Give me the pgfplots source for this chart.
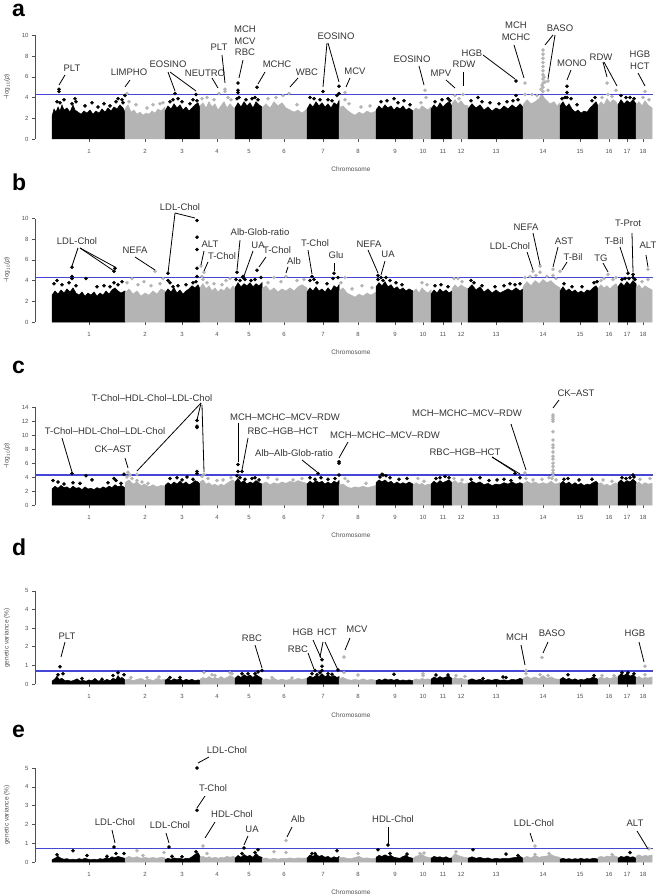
\documentclass[border=0pt]{standalone}
\usepackage{fontspec}
\setmainfont{Liberation Sans}
\usepackage{pgfplots}
\pgfplotsset{compat=1.18}
\definecolor{mgray}{HTML}{B4B4B4}
\definecolor{thrc}{HTML}{4646D6}
\definecolor{txt}{HTML}{333333}
\definecolor{tickc}{HTML}{505050}

\pgfplotsset{
  manh/.style={
    scale only axis, width=621pt, xmin=-17, xmax=604, anchor=south west,
    axis lines*=left, axis line style={draw=none},
    tick align=outside, major tick length=3pt,
    tick style={draw=tickc, line width=0.4pt},
    xtick={37,93,130,165,197,232,271,306,343,371,391,409,444,491,528,557,575,591},
    xticklabels={1,2,3,4,5,6,7,8,9,10,11,12,13,14,15,16,17,18},
    ticklabel style={font=\fontsize{6}{7}\selectfont, text=tickc},
    xticklabel style={yshift=-4pt},
    /pgf/number format/assume math mode=true,
    clip=false,
  },
  blk/.style={fill=black, draw=black, line width=0.5pt},
  gry/.style={fill=mgray, draw=mgray, line width=0.5pt},
  pb/.style={only marks, mark=*, mark size=1.6pt, color=black},
  pg/.style={only marks, mark=*, mark size=1.6pt, color=mgray},
  thr/.style={draw=thrc, line width=1.2pt, no markers},
}
\tikzset{
  lab/.style={font=\fontsize{9.5}{11.5}\selectfont, text=txt, align=center, inner sep=0pt},
  ldr/.style={draw=black, line width=0.8pt},
  axl/.style={font=\fontsize{6.5}{7}\selectfont, text=tickc, inner sep=0pt},
  let/.style={anchor=base west, font=\bfseries\fontsize{23}{23}\selectfont, inner sep=0pt},
}

\begin{document}
\begin{tikzpicture}
\useasboundingbox (0pt,0pt) rectangle (658pt,-896pt);

% ---------------- a ----------------
\begin{axis}[manh, at={(35pt,-139pt)}, height=103.5pt, ymin=0, ymax=10, ytick={0,2,...,10}]
\addplot[blk] coordinates {(0,2.2)(2,2.9)(4,2.6)(6,3.1)(8,2.7)(10,3.3)(12,2.8)(15,3.0)(18,2.6)(21,3.3)(23,2.8)(26,2.6)(29,2.4)(32,2.7)(35,2.5)(38,2.8)(41,2.4)(44,2.7)(47,2.5)(50,2.9)(53,2.6)(56,3.0)(59,2.7)(62,3.1)(65,2.9)(68,3.3)(71,3.0)(73,2.6)} \closedcycle;
\addplot[gry] coordinates {(73,2.9)(76,3.3)(79,2.6)(82,2.8)(85,2.4)(88,2.6)(91,2.3)(94,2.5)(97,2.4)(100,2.7)(103,2.5)(106,2.9)(109,2.7)(113,3.1)} \closedcycle;
\addplot[blk] coordinates {(113,2.7)(116,3.2)(119,2.9)(122,3.4)(125,3.0)(128,3.3)(131,2.8)(134,3.1)(137,2.7)(140,3.0)(143,3.3)(146,3.5)(148,3.0)} \closedcycle;
\addplot[gry] coordinates {(148,3.2)(151,3.5)(154,3.0)(157,3.6)(160,3.1)(163,3.4)(166,2.8)(169,3.2)(172,3.6)(175,3.0)(178,3.4)(181,3.1)(183,2.9)} \closedcycle;
\addplot[blk] coordinates {(183,3.0)(186,3.5)(189,3.1)(192,3.6)(195,3.2)(198,3.5)(201,3.0)(204,3.6)(207,3.3)(210,3.1)} \closedcycle;
\addplot[gry] coordinates {(210,3.0)(214,3.4)(218,3.0)(222,3.6)(226,3.2)(230,3.5)(234,3.0)(238,2.8)(242,2.6)(246,2.8)(250,2.5)(255,2.9)} \closedcycle;
\addplot[blk] coordinates {(255,2.9)(258,3.4)(261,3.1)(264,3.6)(267,3.2)(270,3.5)(273,3.1)(276,3.4)(279,3.0)(282,3.5)(285,3.3)(287,3.7)} \closedcycle;
\addplot[gry] coordinates {(287,3.0)(291,3.2)(295,2.8)(299,2.5)(303,2.3)(307,2.6)(311,2.4)(315,2.7)(319,2.5)(324,2.7)} \closedcycle;
\addplot[blk] coordinates {(324,2.8)(327,3.2)(330,2.9)(333,3.3)(336,3.0)(339,3.2)(342,2.8)(345,3.1)(348,2.9)(351,3.2)(354,2.8)(357,3.0)(361,2.7)} \closedcycle;
\addplot[gry] coordinates {(361,2.7)(364,3.0)(367,2.8)(370,3.2)(373,3.0)(376,2.8)(379,3.1)} \closedcycle;
\addplot[blk] coordinates {(379,2.9)(382,3.3)(385,3.0)(388,3.5)(391,3.1)(394,3.4)(397,3.6)(400,3.2)} \closedcycle;
\addplot[gry] coordinates {(400,3.4)(403,3.8)(406,3.4)(409,3.7)(412,3.3)(416,3.2)} \closedcycle;
\addplot[blk] coordinates {(416,2.9)(420,3.4)(424,3.0)(428,3.3)(432,2.8)(436,3.1)(440,2.7)(444,3.0)(448,2.8)(452,3.2)(456,2.9)(460,3.3)(464,3.0)(468,3.4)(471,3.1)} \closedcycle;
\addplot[gry] coordinates {(471,3.3)(475,3.8)(479,3.4)(483,3.6)(487,3.9)(490,4.4)(492,4.0)(495,3.7)(498,3.4)(502,3.6)(505,3.2)(508,3.5)} \closedcycle;
\addplot[blk] coordinates {(508,3.2)(511,3.6)(514,3.1)(517,3.4)(520,2.9)(523,2.6)(526,2.8)(529,2.5)(532,2.7)(535,2.6)(538,3.0)(541,3.3)(544,3.6)(546,3.2)} \closedcycle;
\addplot[gry] coordinates {(546,3.2)(549,3.6)(552,3.3)(555,3.9)(558,3.5)(561,3.8)(564,3.6)(566,3.2)} \closedcycle;
\addplot[blk] coordinates {(566,3.3)(569,3.8)(572,3.4)(575,3.7)(578,3.5)(581,3.8)(584,3.4)} \closedcycle;
\addplot[gry] coordinates {(584,3.3)(587,3.6)(590,3.2)(593,3.7)(596,3.3)(600,3.0)} \closedcycle;
\addplot[pb] coordinates {(5,3.6)(8,3.5)(12,3.8)(20,3.4)(23,3.9)(24,3.6)(33,3.2)(40,3.5)(46,3.1)(52,3.4)(58,3.2)(64,3.6)(66,3.9)(70,3.8)(71,3.5)(7,4.6)(7,4.8)(73,4.2)
 (118,3.6)(121,3.8)(126,3.9)(130,3.6)(138,3.4)(141,3.8)(145,3.7)(123,4.4)(144,4.3)
 (185,3.9)(187,4.0)(194,3.8)(200,3.9)(203,4.0)(206,3.8)(186,5.4)(186,4.7)(186,4.5)(205,5.0)
 (258,4.0)(262,3.9)(268,3.8)(276,3.8)(280,3.7)(285,4.2)(271,4.6)(287,5.1)(287,4.4)
 (329,3.6)(335,3.7)(342,3.9)(346,3.5)(352,3.7)(358,3.3)
 (383,3.6)(390,3.8)(396,3.9)(398,3.7)
 (419,3.7)(426,4.0)(430,3.6)(438,3.5)(447,3.4)(455,3.6)(461,3.7)(466,3.8)(464,5.6)(464,4.2)
 (510,3.9)(513,4.0)(519,3.9)(525,3.3)(540,3.7)(543,4.0)(515,5.1)(515,4.5)(515,4.0)
 (569,4.2)(574,4.0)(578,4.0)(582,3.9)};
\addplot[pg] coordinates {(75,4.4)(77,3.6)(84,3.3)(95,3.0)(101,3.3)(108,3.4)(111,3.5)
 (150,3.9)(155,4.0)(162,3.8)(167,4.4)(173,4.8)(173,4.6)(176,4.0)(179,3.8)
 (216,3.9)(224,4.0)(231,4.2)(237,4.4)(245,3.3)
 (293,4.5)(293,3.8)(297,3.4)(309,3.1)(318,3.2)
 (373,4.7)(374,4.0)(369,3.5)
 (403,4.2)(411,4.3)(407,3.9)
 (491,4.6)(491,5.0)(491,5.4)(491,5.8)(491,6.2)(491,6.6)(491,7.0)(491,7.4)(491,7.8)(491,8.2)(491,8.6)(490,5.2)(492,6.0)(489,4.8)(493,5.5)(496,5.6)(496,4.7)(473,5.4)(473,4.3)(480,4.3)(485,4.2)
 (550,4.0)(555,5.4)(556,4.3)(564,4.7)(560,4.1)
 (593,4.6)(591,4.0)(597,3.8)};
\addplot[thr] coordinates {(-17,4.3)(601,4.3)};
\draw[tickc, line width=0.4pt] (axis cs:-17,0) -- (axis cs:-17,10);
\end{axis}

% ---------------- b ----------------
\begin{axis}[manh, at={(35pt,-322pt)}, height=103.5pt, ymin=0, ymax=10, ytick={0,2,...,10}]
\addplot[blk] coordinates {(0,2.6)(3,3.0)(6,2.7)(9,3.1)(12,2.8)(15,3.2)(18,2.9)(21,3.3)(24,2.8)(27,2.6)(30,2.9)(33,2.5)(36,2.8)(39,2.6)(42,2.9)(45,2.5)(48,2.8)(51,2.6)(54,3.0)(57,2.7)(60,3.1)(63,3.3)(66,3.0)(69,2.8)(73,3.0)} \closedcycle;
\addplot[gry] coordinates {(73,2.8)(77,3.2)(81,2.7)(85,3.0)(89,2.5)(93,2.8)(97,2.6)(101,3.0)(105,2.7)(109,3.2)(113,3.0)} \closedcycle;
\addplot[blk] coordinates {(113,2.8)(116,3.2)(119,2.9)(122,3.3)(125,2.8)(128,3.1)(131,2.7)(134,3.0)(137,3.2)(140,3.5)(143,3.3)(146,3.6)(148,3.2)} \closedcycle;
\addplot[gry] coordinates {(148,3.3)(151,3.7)(154,3.2)(157,3.5)(160,3.0)(163,3.3)(166,2.9)(169,3.2)(172,3.0)(175,3.4)(178,3.1)(181,3.5)(183,3.2)} \closedcycle;
\addplot[blk] coordinates {(183,3.3)(186,3.8)(189,3.4)(192,3.7)(195,3.5)(198,3.8)(201,3.4)(204,3.7)(207,3.5)(210,3.8)} \closedcycle;
\addplot[gry] coordinates {(210,3.2)(214,3.5)(218,3.0)(222,3.3)(226,2.9)(230,3.2)(234,3.0)(238,3.3)(242,3.0)(246,3.4)(250,3.6)(255,3.3)} \closedcycle;
\addplot[blk] coordinates {(255,2.9)(258,3.3)(261,3.0)(264,3.4)(267,3.0)(270,3.2)(273,2.9)(276,3.3)(279,3.0)(282,3.5)(285,3.3)(287,3.6)} \closedcycle;
\addplot[gry] coordinates {(287,3.0)(291,3.3)(295,2.8)(299,2.6)(303,2.4)(307,2.7)(311,2.5)(315,2.8)(319,2.6)(324,2.9)} \closedcycle;
\addplot[blk] coordinates {(324,3.4)(327,3.8)(330,3.5)(333,3.9)(336,3.4)(339,3.6)(342,3.2)(345,3.4)(348,3.1)(351,3.3)(354,3.0)(357,3.2)(361,3.0)} \closedcycle;
\addplot[gry] coordinates {(361,2.9)(364,3.2)(367,2.8)(370,3.3)(373,3.0)(376,2.8)(379,3.1)} \closedcycle;
\addplot[blk] coordinates {(379,2.7)(382,3.1)(385,2.8)(388,3.2)(391,2.9)(394,3.1)(397,2.8)(400,3.0)} \closedcycle;
\addplot[gry] coordinates {(400,3.2)(403,3.6)(406,3.3)(409,3.6)(412,3.4)(416,3.2)} \closedcycle;
\addplot[blk] coordinates {(416,3.2)(420,3.6)(424,3.1)(428,3.4)(432,2.9)(436,3.2)(440,2.8)(444,3.1)(448,2.8)(452,3.0)(456,3.2)(460,3.0)(464,3.3)(468,3.0)(471,3.2)} \closedcycle;
\addplot[gry] coordinates {(471,3.4)(475,3.9)(479,3.5)(483,4.0)(487,3.7)(491,4.1)(495,3.8)(499,4.0)(503,3.6)(508,3.3)} \closedcycle;
\addplot[blk] coordinates {(508,3.0)(511,3.4)(514,3.0)(517,3.2)(520,2.9)(523,3.1)(526,2.8)(529,3.0)(532,2.8)(535,3.1)(538,3.0)(541,3.3)(544,3.5)(546,3.2)} \closedcycle;
\addplot[gry] coordinates {(546,3.2)(549,3.6)(552,3.3)(555,3.5)(558,3.2)(561,3.5)(564,3.7)(566,3.3)} \closedcycle;
\addplot[blk] coordinates {(566,3.4)(569,3.8)(572,3.5)(575,3.9)(578,3.6)(581,4.0)(584,3.7)} \closedcycle;
\addplot[gry] coordinates {(584,3.3)(587,3.6)(590,3.2)(593,3.5)(596,3.3)(600,3.1)} \closedcycle;
\addplot[pb] coordinates {(2,3.7)(5,4.0)(10,3.6)(17,3.8)(20,4.4)(20,4.2)(24,3.5)(34,4.2)(45,3.4)(52,3.5)(58,3.4)(62,3.8)(66,3.6)(70,3.9)(20,5.3)(63,5.2)(62,4.9)
 (116,4.0)(118,3.8)(121,3.4)(126,3.5)(134,3.6)(141,3.8)(144,3.9)(116,4.7)(145,9.8)(145,8.2)(145,7.0)(145,5.2)(145,4.4)
 (184,4.1)(188,4.0)(193,4.1)(199,4.0)(203,4.1)(209,4.3)(185,4.8)(191,4.4)(191,4.3)(205,5.0)
 (258,4.0)(262,4.1)(265,3.8)(275,3.7)(281,4.2)(286,4.3)(260,4.4)(282,4.7)
 (326,4.1)(331,4.0)(334,4.3)(338,4.0)(344,3.8)(350,3.6)(326,4.5)(329,4.3)
 (383,3.5)(389,3.6)(396,3.4)
 (419,4.0)(422,3.8)(430,3.5)(443,3.4)(452,3.5)(458,3.7)(463,3.6)(468,3.7)
 (512,3.7)(520,3.4)(530,3.4)(542,3.8)(545,3.9)
 (570,4.1)(573,4.2)(577,4.2)(581,4.3)(583,4.1)(576,4.7)(581,4.6)};
\addplot[pg] coordinates {(75,3.8)(80,4.2)(86,3.6)(92,3.9)(99,3.5)(103,4.9)(108,3.7)(111,4.2)
 (150,4.4)(151,4.1)(155,3.8)(162,3.7)(170,3.6)(174,4.0)(178,4.2)(149,5.4)(152,4.8)
 (216,3.8)(222,4.3)(229,3.9)(234,4.4)(245,4.0)(252,4.1)
 (289,3.8)(293,4.3)(300,3.2)(310,3.5)(320,3.3)
 (370,3.8)(375,3.6)
 (402,4.2)(406,4.2)(410,3.9)
 (473,4.3)(478,4.4)(484,4.5)(488,4.8)(495,4.4)(501,4.5)(504,4.2)(481,4.9)(488,5.4)(501,5.1)(508,4.9)
 (549,4.0)(552,4.2)(556,4.6)(561,4.1)(564,4.3)
 (596,5.1)(596,4.1)(590,3.9)};
\addplot[thr] coordinates {(-17,4.3)(601,4.3)};
\draw[tickc, line width=0.4pt] (axis cs:-17,0) -- (axis cs:-17,10);
\end{axis}

% ---------------- c ----------------
\begin{axis}[manh, at={(35pt,-505pt)}, height=97.7pt, ymin=0, ymax=14, ytick={0,2,...,14}]
\addplot[blk] coordinates {(0,2.3)(3,2.7)(6,2.4)(9,2.8)(12,2.5)(15,2.6)(18,2.3)(21,2.7)(24,2.4)(27,2.5)(30,2.2)(33,2.6)(36,2.3)(39,2.4)(42,2.2)(45,2.5)(48,2.3)(51,2.6)(54,2.4)(57,2.7)(60,2.5)(63,2.9)(66,2.6)(69,2.8)(73,2.5)} \closedcycle;
\addplot[gry] coordinates {(73,3.2)(77,3.6)(81,3.0)(85,3.3)(89,2.8)(93,3.0)(97,2.6)(101,2.9)(105,2.6)(109,2.8)(113,2.7)} \closedcycle;
\addplot[blk] coordinates {(113,2.8)(116,3.2)(119,2.9)(122,3.3)(125,3.0)(128,3.4)(131,3.0)(134,3.3)(137,2.9)(140,3.1)(143,3.5)(146,3.3)(148,3.0)} \closedcycle;
\addplot[gry] coordinates {(148,3.3)(151,3.6)(154,3.0)(157,3.2)(160,2.8)(163,3.0)(166,2.7)(169,3.0)(172,2.8)(175,3.1)(178,3.4)(181,3.6)(183,3.2)} \closedcycle;
\addplot[blk] coordinates {(183,3.3)(186,3.8)(189,3.2)(192,3.5)(195,3.0)(198,3.3)(201,3.1)(204,3.5)(207,3.2)(210,3.0)} \closedcycle;
\addplot[gry] coordinates {(210,3.0)(214,3.3)(218,2.9)(222,3.2)(226,3.0)(230,3.3)(234,3.1)(238,3.4)(242,3.2)(246,3.5)(250,3.3)(255,3.1)} \closedcycle;
\addplot[blk] coordinates {(255,3.0)(258,3.4)(261,3.1)(264,3.5)(267,3.2)(270,3.4)(273,3.0)(276,3.3)(279,3.0)(282,3.4)(285,3.2)(287,3.5)} \closedcycle;
\addplot[gry] coordinates {(287,2.9)(291,3.0)(295,2.6)(299,2.4)(303,2.6)(307,2.5)(311,2.7)(315,2.5)(319,2.6)(324,2.8)} \closedcycle;
\addplot[blk] coordinates {(324,3.2)(327,3.6)(330,3.3)(333,3.6)(336,3.2)(339,3.4)(342,3.0)(345,3.3)(348,3.0)(351,3.2)(354,3.0)(357,3.3)(361,3.0)} \closedcycle;
\addplot[gry] coordinates {(361,2.8)(364,3.2)(367,2.9)(370,3.1)(373,2.8)(376,3.0)(379,2.9)} \closedcycle;
\addplot[blk] coordinates {(379,3.0)(382,3.4)(385,3.1)(388,3.5)(391,3.2)(394,3.4)(397,3.6)(400,3.2)} \closedcycle;
\addplot[gry] coordinates {(400,3.2)(403,3.5)(406,3.1)(409,3.3)(412,3.0)(416,3.2)} \closedcycle;
\addplot[blk] coordinates {(416,3.0)(420,3.4)(424,3.1)(428,3.3)(432,2.9)(436,3.1)(440,2.8)(444,3.0)(448,2.9)(452,3.2)(456,3.0)(460,3.3)(464,3.0)(468,3.2)(471,3.0)} \closedcycle;
\addplot[gry] coordinates {(471,3.0)(475,3.4)(479,3.1)(483,3.3)(487,3.0)(491,3.2)(495,3.0)(499,3.4)(503,3.0)(508,3.2)} \closedcycle;
\addplot[blk] coordinates {(508,3.0)(511,3.4)(514,3.0)(517,3.3)(520,2.9)(523,3.2)(526,2.9)(529,3.1)(532,2.8)(535,3.0)(538,2.9)(541,3.2)(544,3.4)(546,3.1)} \closedcycle;
\addplot[gry] coordinates {(546,2.9)(549,3.2)(552,2.8)(555,3.0)(558,2.7)(561,3.0)(564,3.2)(566,2.9)} \closedcycle;
\addplot[blk] coordinates {(566,3.2)(569,3.6)(572,3.2)(575,3.5)(578,3.3)(581,3.7)(584,3.3)} \closedcycle;
\addplot[gry] coordinates {(584,3.0)(587,3.3)(590,2.9)(593,3.2)(596,3.0)(600,3.1)} \closedcycle;
\addplot[pb] coordinates {(1,3.5)(6,3.3)(12,3.0)(21,3.2)(28,3.1)(34,4.2)(40,3.6)(56,3.2)(62,3.8)(64,3.5)(69,3.1)(20,4.5)(72,4.4)
 (118,3.8)(125,3.9)(130,3.6)(135,4.0)(141,3.7)(145,12.1)(145,11.3)(145,11.1)(145,4.8)(145,4.5)
 (185,4.2)(188,3.9)(193,3.7)(200,3.8)(203,3.9)(207,3.6)(186,5.8)(186,4.8)(190,4.8)
 (258,3.9)(263,3.7)(269,3.9)(276,3.7)(283,3.8)(266,4.5)(287,6.2)(287,6.0)(287,4.3)
 (328,4.0)(331,4.3)(334,4.2)(338,3.9)(347,3.7)(355,3.8)(330,4.4)
 (384,3.8)(388,3.9)(393,4.1)(397,3.9)
 (419,3.7)(428,3.9)(437,3.5)(445,3.6)(452,3.7)(459,3.5)(468,3.9)(463,4.5)
 (512,3.7)(516,3.8)(527,3.6)(540,3.7)
 (570,3.9)(574,3.8)(578,3.9)(581,4.3)(582,4.0)};
\addplot[pg] coordinates {(75,4.0)(78,4.3)(80,3.8)(85,3.5)(90,3.3)(96,3.1)(76,4.7)(85,4.4)
 (150,4.1)(156,3.8)(165,3.5)(171,3.6)(179,3.9)(152,4.4)
 (216,3.9)(225,3.7)(241,3.6)(250,3.8)
 (293,3.8)(296,3.4)(314,3.1)
 (366,3.8)(372,3.4)
 (402,3.8)(410,3.6)
 (474,3.8)(481,3.6)(490,3.7)(497,3.9)(504,3.6)(501,12.9)(501,12.6)(501,12.3)(501,12.0)(501,10.5)(501,9.3)(501,8.6)(501,8.2)(501,7.6)(501,7.0)(501,6.6)(501,6.0)(501,5.5)(501,5.0)(501,4.6)(501,4.2)(500,3.8)(473,4.6)
 (551,3.6)(560,3.4)
 (588,3.7)(598,3.8)};
\addplot[thr] coordinates {(-17,4.3)(601,4.3)};
\draw[tickc, line width=0.4pt] (axis cs:-17,0) -- (axis cs:-17,14);
\end{axis}

% ---------------- d ----------------
\begin{axis}[manh, at={(35pt,-684pt)}, height=93.3pt, ymin=0, ymax=5, ytick={0,1,...,5}]
\addplot[blk] coordinates {(0,0.15)(3,0.28)(5,0.42)(7,0.25)(10,0.3)(13,0.18)(16,0.2)(19,0.15)(22,0.2)(25,0.28)(28,0.16)(31,0.2)(34,0.15)(37,0.22)(40,0.18)(43,0.3)(46,0.16)(49,0.2)(52,0.17)(55,0.25)(58,0.18)(61,0.3)(64,0.25)(66,0.45)(68,0.3)(70,0.35)(73,0.22)} \closedcycle;
\addplot[gry] coordinates {(73,0.2)(77,0.28)(81,0.18)(85,0.25)(89,0.3)(93,0.2)(97,0.26)(101,0.18)(105,0.3)(109,0.22)(113,0.25)} \closedcycle;
\addplot[blk] coordinates {(113,0.2)(116,0.3)(119,0.18)(122,0.28)(125,0.22)(128,0.3)(131,0.18)(134,0.25)(137,0.2)(140,0.25)(143,0.18)(146,0.22)(148,0.2)} \closedcycle;
\addplot[gry] coordinates {(148,0.25)(151,0.35)(154,0.28)(157,0.4)(160,0.3)(163,0.35)(166,0.28)(169,0.4)(172,0.3)(175,0.35)(178,0.45)(181,0.38)(183,0.3)} \closedcycle;
\addplot[blk] coordinates {(183,0.3)(186,0.45)(189,0.35)(192,0.5)(195,0.4)(198,0.48)(201,0.35)(204,0.5)(207,0.4)(210,0.3)} \closedcycle;
\addplot[gry] coordinates {(210,0.2)(214,0.28)(218,0.22)(222,0.3)(226,0.2)(230,0.26)(234,0.2)(238,0.25)(242,0.22)(246,0.3)(250,0.25)(255,0.3)} \closedcycle;
\addplot[blk] coordinates {(255,0.3)(258,0.42)(261,0.35)(264,0.45)(267,0.4)(270,0.55)(273,0.4)(276,0.48)(279,0.38)(282,0.45)(285,0.35)(287,0.4)} \closedcycle;
\addplot[gry] coordinates {(287,0.3)(291,0.35)(295,0.25)(299,0.2)(303,0.25)(307,0.2)(311,0.28)(315,0.2)(319,0.25)(324,0.2)} \closedcycle;
\addplot[blk] coordinates {(324,0.18)(327,0.25)(330,0.2)(333,0.28)(336,0.22)(339,0.25)(342,0.2)(345,0.26)(348,0.18)(351,0.22)(354,0.18)(357,0.22)(361,0.18)} \closedcycle;
\addplot[gry] coordinates {(361,0.2)(364,0.28)(367,0.22)(370,0.3)(373,0.25)(376,0.28)(379,0.22)} \closedcycle;
\addplot[blk] coordinates {(379,0.25)(382,0.38)(385,0.3)(388,0.4)(391,0.32)(394,0.38)(397,0.42)(400,0.3)} \closedcycle;
\addplot[gry] coordinates {(400,0.25)(403,0.35)(406,0.28)(409,0.32)(412,0.25)(416,0.22)} \closedcycle;
\addplot[blk] coordinates {(416,0.2)(420,0.28)(424,0.2)(428,0.25)(432,0.18)(436,0.24)(440,0.2)(444,0.26)(448,0.2)(452,0.22)(456,0.18)(460,0.25)(464,0.22)(468,0.3)(471,0.25)} \closedcycle;
\addplot[gry] coordinates {(471,0.3)(475,0.4)(479,0.3)(483,0.38)(487,0.28)(491,0.45)(495,0.3)(499,0.38)(503,0.28)(508,0.25)} \closedcycle;
\addplot[blk] coordinates {(508,0.25)(511,0.35)(514,0.25)(517,0.3)(520,0.22)(523,0.28)(526,0.2)(529,0.25)(532,0.22)(535,0.3)(538,0.28)(541,0.38)(544,0.3)(546,0.25)} \closedcycle;
\addplot[gry] coordinates {(546,0.28)(549,0.38)(552,0.3)(555,0.35)(558,0.28)(561,0.35)(564,0.4)(566,0.3)} \closedcycle;
\addplot[blk] coordinates {(566,0.4)(569,0.55)(572,0.45)(575,0.58)(578,0.42)(581,0.5)(584,0.35)} \closedcycle;
\addplot[gry] coordinates {(584,0.3)(587,0.4)(590,0.3)(593,0.35)(596,0.32)(600,0.38)} \closedcycle;
\addplot[pb] coordinates {(6,0.5)(11,0.55)(30,0.3)(50,0.25)(61,0.45)(66,0.6)(72,0.5)(8,0.92)
 (118,0.35)(128,0.35)
 (190,0.55)(196,0.55)(203,0.55)(206,0.65)(210,0.72)
 (260,0.55)(265,0.5)(268,0.6)(276,0.55)(280,0.52)(263,0.72)(270,1.3)(270,0.95)(270,0.72)(286,0.75)
 (342,0.52)
 (384,0.48)(396,0.48)
 (431,0.3)(451,0.38)(454,0.35)
 (516,0.5)(542,0.45)
 (570,0.6)(576,0.6)(582,0.55)};
\addplot[pg] coordinates {(79,0.35)(95,0.35)(107,0.38)
 (152,0.62)(160,0.5)(163,0.45)(178,0.6)(180,0.55)
 (220,0.35)(240,0.32)
 (292,0.62)(306,0.48)(292,1.45)
 (371,0.55)(371,0.45)
 (404,0.45)(413,0.4)
 (474,0.55)(488,0.5)(496,0.45)(474,0.72)(490,1.42)
 (550,0.45)(562,0.45)
 (593,0.5)(593,0.95)};
\addplot[thr] coordinates {(-17,0.7)(601,0.7)};
\draw[tickc, line width=0.4pt] (axis cs:-17,0) -- (axis cs:-17,5);
\end{axis}

% ---------------- e ----------------
\begin{axis}[manh, at={(35pt,-862pt)}, height=94pt, ymin=0, ymax=5, ytick={0,1,...,5}]
\addplot[blk] coordinates {(0,0.12)(3,0.2)(6,0.3)(9,0.2)(12,0.15)(15,0.18)(18,0.12)(21,0.15)(24,0.12)(27,0.18)(30,0.14)(33,0.2)(36,0.15)(39,0.12)(42,0.15)(45,0.12)(48,0.18)(51,0.15)(54,0.22)(57,0.18)(60,0.28)(63,0.22)(66,0.3)(69,0.25)(73,0.2)} \closedcycle;
\addplot[gry] coordinates {(73,0.2)(77,0.3)(81,0.22)(85,0.28)(89,0.2)(93,0.25)(97,0.2)(101,0.24)(105,0.2)(109,0.26)(113,0.22)} \closedcycle;
\addplot[blk] coordinates {(113,0.12)(116,0.2)(119,0.15)(122,0.22)(125,0.18)(128,0.2)(131,0.15)(134,0.2)(137,0.18)(140,0.28)(143,0.4)(146,0.5)(148,0.3)} \closedcycle;
\addplot[gry] coordinates {(148,0.25)(151,0.3)(154,0.22)(157,0.28)(160,0.2)(163,0.26)(166,0.2)(169,0.25)(172,0.22)(175,0.3)(178,0.25)(181,0.3)(183,0.25)} \closedcycle;
\addplot[blk] coordinates {(183,0.2)(186,0.35)(189,0.25)(192,0.4)(195,0.3)(198,0.35)(201,0.25)(204,0.45)(207,0.3)(210,0.25)} \closedcycle;
\addplot[gry] coordinates {(210,0.18)(214,0.22)(218,0.15)(222,0.2)(226,0.15)(230,0.2)(234,0.18)(238,0.22)(242,0.18)(246,0.22)(250,0.2)(255,0.22)} \closedcycle;
\addplot[blk] coordinates {(255,0.2)(258,0.38)(261,0.3)(264,0.42)(267,0.3)(270,0.35)(273,0.25)(276,0.3)(279,0.2)(282,0.28)(285,0.22)(287,0.3)} \closedcycle;
\addplot[gry] coordinates {(287,0.22)(291,0.25)(295,0.2)(299,0.18)(303,0.24)(307,0.3)(311,0.2)(315,0.22)(319,0.18)(324,0.2)} \closedcycle;
\addplot[blk] coordinates {(324,0.25)(327,0.35)(330,0.3)(333,0.38)(336,0.3)(339,0.35)(342,0.25)(345,0.22)(348,0.2)(351,0.3)(354,0.35)(357,0.25)(361,0.2)} \closedcycle;
\addplot[gry] coordinates {(361,0.2)(364,0.3)(367,0.35)(370,0.4)(373,0.3)(376,0.25)(379,0.22)} \closedcycle;
\addplot[blk] coordinates {(379,0.2)(382,0.3)(385,0.25)(388,0.28)(391,0.22)(394,0.28)(397,0.2)(400,0.22)} \closedcycle;
\addplot[gry] coordinates {(400,0.25)(403,0.45)(406,0.35)(409,0.3)(412,0.25)(416,0.22)} \closedcycle;
\addplot[blk] coordinates {(416,0.2)(420,0.28)(424,0.2)(428,0.25)(432,0.18)(436,0.22)(440,0.15)(444,0.2)(448,0.16)(452,0.2)(456,0.18)(460,0.22)(464,0.25)(468,0.3)(471,0.2)} \closedcycle;
\addplot[gry] coordinates {(471,0.2)(475,0.3)(479,0.22)(483,0.35)(487,0.25)(491,0.3)(495,0.32)(499,0.4)(503,0.3)(508,0.25)} \closedcycle;
\addplot[blk] coordinates {(508,0.15)(511,0.2)(514,0.15)(517,0.18)(520,0.14)(523,0.18)(526,0.15)(529,0.2)(532,0.15)(535,0.18)(538,0.15)(541,0.2)(544,0.18)(546,0.15)} \closedcycle;
\addplot[gry] coordinates {(546,0.25)(549,0.3)(552,0.25)(555,0.32)(558,0.28)(561,0.35)(564,0.3)(566,0.25)} \closedcycle;
\addplot[blk] coordinates {(566,0.2)(569,0.3)(572,0.25)(575,0.32)(578,0.25)(581,0.28)(584,0.2)} \closedcycle;
\addplot[gry] coordinates {(584,0.3)(587,0.38)(590,0.3)(593,0.35)(596,0.32)(600,0.38)} \closedcycle;
\addplot[pb] coordinates {(5,0.38)(21,0.6)(35,0.35)(55,0.3)(64,0.45)(72,0.45)(62,0.8)
 (120,0.3)(130,0.28)(144,0.55)(117,0.8)(145,5.0)(145,2.75)
 (190,0.45)(203,0.5)(192,0.75)(206,0.65)
 (260,0.45)(263,0.45)(285,0.6)
 (326,0.65)(338,0.45)(355,0.42)(336,0.9)
 (421,0.65)(454,0.42)(466,0.35)
 (578,0.5)};
\addplot[pg] coordinates {(85,0.6)(91,0.35)(112,0.5)
 (155,0.45)(151,0.85)
 (222,0.55)(234,0.5)(234,1.15)
 (306,0.45)
 (368,0.45)(372,0.48)
 (404,0.55)
 (483,0.4)(497,0.45)(483,0.85)
 (560,0.4)
 (597,0.7)};
\addplot[thr] coordinates {(-17,0.7)(601,0.7)};
\draw[tickc, line width=0.4pt] (axis cs:-17,0) -- (axis cs:-17,5);
\end{axis}

% ---------------- annotations (1pt = 1px, y downwards) ----------------
\begin{scope}[x=1pt, y=-1pt]
\node[let] at (12,17) {a};
\node[let] at (12,190) {b};
\node[let] at (12,373) {c};
\node[let] at (12,555) {d};
\node[let] at (12,737) {e};
\node[axl, rotate=90] at (7,87) {−log\textsubscript{10}(\textit{p})};
\node[axl, rotate=90] at (7,270) {−log\textsubscript{10}(\textit{p})};
\node[axl, rotate=90] at (7,456) {−log\textsubscript{10}(\textit{p})};
\node[axl, rotate=90] at (7,638) {genetic variance (\%)};
\node[axl, rotate=90] at (7,815) {genetic variance (\%)};
\node[axl] at (351,169) {Chromosome};
\node[axl] at (351,352) {Chromosome};
\node[axl] at (351,535) {Chromosome};
\node[axl] at (351,715) {Chromosome};
\node[axl] at (351,892) {Chromosome};

% a
\node[lab] at (72,68) {PLT}; \draw[ldr] (65,75)--(59,85);
\node[lab] at (129,72) {LIMPHO}; \draw[ldr] (130,80)--(125,87);
\node[lab] at (168,64) {EOSINO}; \draw[ldr] (168,72)--(175,91); \draw[ldr] (170,72)--(196,91);
\node[lab] at (205,73) {NEUTRO}; \draw[ldr] (212,78)--(218,88);
\node[lab] at (219,47) {PLT}; \draw[ldr] (222,55)--(225,83);
\node[lab] at (245,41) {MCH\\MCV\\RBC}; \draw[ldr] (243,60)--(239,78);
\node[lab] at (277,64) {MCHC}; \draw[ldr] (265,72)--(258,84);
\node[lab] at (307,72) {WBC}; \draw[ldr] (298,78)--(290,87);
\node[lab] at (336,36) {EOSINO}; \draw[ldr] (327,43)--(323,87); \draw[ldr] (328,43)--(339,82);
\node[lab] at (355,71) {MCV}; \draw[ldr] (350,78)--(346,87);
\node[lab] at (412,59) {EOSINO}; \draw[ldr] (419,66)--(424,85);
\node[lab] at (441,73) {MPV}; \draw[ldr] (446,80)--(455,88);
\node[lab] at (464,64) {RDW}; \draw[ldr] (463,72)--(463,86);
\node[lab] at (472,53) {HGB}; \draw[ldr] (483,55)--(515,79);
\node[lab] at (516,31) {MCH\\MCHC}; \draw[ldr] (514,45)--(524,78);
\node[lab] at (560,28) {BASO}; \draw[ldr] (553,35)--(545,45); \draw[ldr] (555,35)--(548,79);
\node[lab] at (572,63) {MONO}; \draw[ldr] (571,70)--(567,80);
\node[lab] at (601,57) {RDW}; \draw[ldr] (603,62)--(607,77); \draw[ldr] (604,62)--(617,86);
\node[lab] at (640,60) {HGB\\HCT}; \draw[ldr] (638,73)--(645,86);

% b
\node[lab] at (77,241) {LDL-Chol}; \draw[ldr] (78,248)--(72,266); \draw[ldr] (80,248)--(115,267); \draw[ldr] (80,248)--(114,271);
\node[lab] at (135,250) {NEFA}; \draw[ldr] (135,257)--(155,270);
\node[lab] at (180,207) {LDL-Chol}; \draw[ldr] (175,213)--(168,273); \draw[ldr] (175,213)--(195,218);
\node[lab] at (210,244) {ALT}; \draw[ldr] (204,251)--(201,265);
\node[lab] at (222,256) {T-Chol}; \draw[ldr] (208,262)--(204,271);
\node[lab] at (260,232) {Alb-Glob-ratio}; \draw[ldr] (240,240)--(237,270);
\node[lab] at (258,245) {UA}; \draw[ldr] (253,251)--(244,276);
\node[lab] at (277,250) {T-Chol}; \draw[ldr] (266,257)--(259,267);
\node[lab] at (294,261) {Alb}; \draw[ldr] (288,267)--(286,273);
\node[lab] at (315,243) {T-Chol}; \draw[ldr] (308,250)--(312,274);
\node[lab] at (336,255) {Glu}; \draw[ldr] (334,263)--(334,271);
\node[lab] at (369,244) {NEFA}; \draw[ldr] (368,250)--(378,273);
\node[lab] at (388,254) {UA}; \draw[ldr] (385,261)--(381,275);
\node[lab] at (510,246) {LDL-Chol}; \draw[ldr] (527,252)--(533,270);
\node[lab] at (526,227) {NEFA}; \draw[ldr] (533,233)--(540,265);
\node[lab] at (564,241) {AST}; \draw[ldr] (558,247)--(553,267);
\node[lab] at (573,257) {T-Bil}; \draw[ldr] (567,262)--(562,270);
\node[lab] at (601,258) {TG}; \draw[ldr] (603,263)--(608,272);
\node[lab] at (614,241) {T-Bil}; \draw[ldr] (620,247)--(628,272);
\node[lab] at (628,223) {T-Prot}; \draw[ldr] (632,233)--(633,272);
\node[lab] at (648,245) {ALT}; \draw[ldr] (646,255)--(648,267);

% c
\node[lab] at (105,431) {T-Chol–HDL-Chol–LDL-Chol}; \draw[ldr] (62,438)--(72,472);
\node[lab] at (113,449) {CK–AST}; \draw[ldr] (125,458)--(128,468);
\node[lab] at (152,398) {T-Chol–HDL-Chol–LDL-Chol}; \draw[ldr] (201,403)--(137,471); \draw[ldr] (201,403)--(197,420); \draw[ldr] (202,405)--(204,472);
\node[lab] at (285,417) {MCH–MCHC–MCV–RDW}; \draw[ldr] (238,423)--(238,462);
\node[lab] at (283,431) {RBC–HGB–HCT}; \draw[ldr] (248,438)--(242,470);
\node[lab] at (294,453) {Alb–Alb-Glob-ratio}; \draw[ldr] (302,460)--(317,472);
\node[lab] at (385,435) {MCH–MCHC–MCV–RDW}; \draw[ldr] (348,442)--(339,458);
\node[lab] at (465,452) {RBC–HGB–HCT}; \draw[ldr] (492,457)--(515,472); \draw[ldr] (492,457)--(520,474);
\node[lab] at (467,413) {MCH–MCHC–MCV–RDW}; \draw[ldr] (511,424)--(526,470);
\node[lab] at (576,393) {CK–AST}; \draw[ldr] (559,400)--(553,408);

% d
\node[lab] at (67,636) {PLT}; \draw[ldr] (65,642)--(61,657);
\node[lab] at (252,638) {RBC}; \draw[ldr] (255,645)--(262,668);
\node[lab] at (303,632) {HGB}; \draw[ldr] (313,640)--(321,658);
\node[lab] at (298,649) {RBC}; \draw[ldr] (308,653)--(314,669);
\node[lab] at (327,632) {HCT}; \draw[ldr] (323,642)--(320,657); \draw[ldr] (325,642)--(338,670);
\node[lab] at (357,629) {MCV}; \draw[ldr] (350,638)--(345,650);
\node[lab] at (517,637) {MCH}; \draw[ldr] (521,645)--(525,665);
\node[lab] at (552,633) {BASO}; \draw[ldr] (548,642)--(543,653);
\node[lab] at (635,633) {HGB}; \draw[ldr] (639,642)--(644,662);

% e
\node[lab] at (115,822) {LDL-Chol}; \draw[ldr] (112,830)--(115,843);
\node[lab] at (170,825) {LDL-Chol}; \draw[ldr] (166,833)--(169,843);
\node[lab] at (227,750) {LDL-Chol}; \draw[ldr] (209,757)--(198,763);
\node[lab] at (213,788) {T-Chol}; \draw[ldr] (205,796)--(197,808);
\node[lab] at (232,814) {HDL-Chol}; \draw[ldr] (215,822)--(205,838);
\node[lab] at (252,829) {UA}; \draw[ldr] (248,836)--(244,845);
\node[lab] at (298,819) {Alb}; \draw[ldr] (292,827)--(287,837);
\node[lab] at (393,819) {HDL-Chol}; \draw[ldr] (388,827)--(388,845);
\node[lab] at (534,823) {LDL-Chol}; \draw[ldr] (530,833)--(533,842);
\node[lab] at (635,823) {ALT}; \draw[ldr] (637,831)--(648,849);
\end{scope}
\end{tikzpicture}
\end{document}
